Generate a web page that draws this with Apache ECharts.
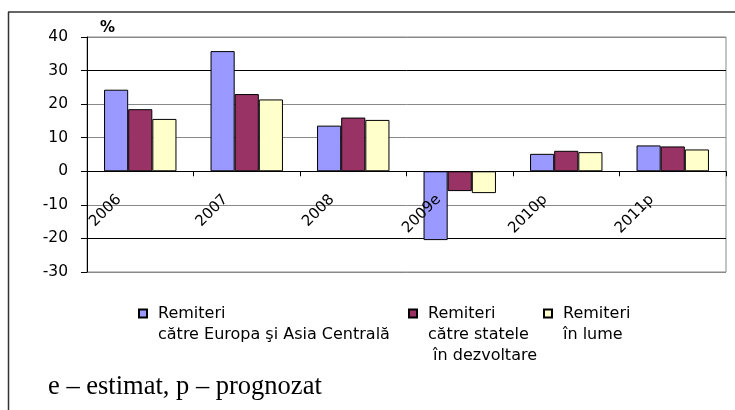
<!DOCTYPE html>
<html><head><meta charset="utf-8">
<script src="https://cdn.jsdelivr.net/npm/echarts@6/dist/echarts.min.js"></script>
<style>html,body{margin:0;padding:0;background:#fff}#c{width:735px;height:410px}</style>
</head><body><div id="c"></div>
<script>
var categories = ['2006', '2007', '2008', '2009e', '2010p', '2011p'];
var europaAsia = [24.3, 35.8, 13.6, -20.5, 5.2, 7.7];
var stateDezvoltare = [18.5, 23.0, 16.0, -5.9, 6.1, 7.4];
var lume = [15.6, 21.4, 15.3, -6.5, 5.7, 6.5];
var seriesNames = ['Remiteri\ncătre Europa şi Asia Centrală', 'Remiteri\ncătre statele\n în dezvoltare', 'Remiteri\nîn lume'];
var yTicks = {min: -30, max: 40, interval: 10};
var footnote = 'e – estimat, p – prognozat';

var colors = ['#9999FF', '#993366', '#FFFFCC'];
var LH = 21;
var chart = echarts.init(document.getElementById('c'), null, {renderer: 'canvas'});
function legendAt(i, left) {
  var n = seriesNames[i].split('\n').length;
  var boxH = (2 * n - 1) * LH;
  return {
    data: [seriesNames[i]], left: left, top: Math.round(313.5 - boxH / 2), orient: 'horizontal', padding: 0,
    itemWidth: 8, itemHeight: 8, icon: 'rect', selectedMode: false,
    formatter: function (name) { return new Array(n).join('\n') + name; },
    textStyle: {fontFamily: 'DejaVu Sans', fontSize: 16, color: '#000', lineHeight: LH, padding: [0, 0, 0, 6]}
  };
}
var vals = [europaAsia, stateDezvoltare, lume];
chart.setOption({
  animation: false,
  backgroundColor: '#fff',
  textStyle: {fontFamily: 'DejaVu Sans'},
  title: {text: footnote, left: 48, top: 374, padding: 0,
    textStyle: {fontFamily: 'Liberation Serif', fontSize: 26.5, lineHeight: 26, fontWeight: 'normal', color: '#000'}},
  legend: [legendAt(0, 138), legendAt(1, 408), legendAt(2, 543)],
  grid: {left: 87, right: 9, top: 37, bottom: 138, show: true, borderColor: '#888', borderWidth: 1},
  xAxis: {
    type: 'category', data: categories, boundaryGap: true, z: 10,
    axisLine: {onZero: true, lineStyle: {color: '#000', width: 1}},
    axisTick: {show: true, length: 5, inside: false, lineStyle: {color: '#000'}},
    axisLabel: {rotate: 45, fontFamily: 'DejaVu Sans', fontSize: 15, color: '#000', margin: -96, padding: [0, 30, 0, 0]}
  },
  yAxis: {
    type: 'value', min: yTicks.min, max: yTicks.max, interval: yTicks.interval,
    name: '%', nameLocation: 'end', nameGap: 1,
    nameTextStyle: {fontFamily: 'DejaVu Sans', fontWeight: 'bold', fontSize: 15, color: '#000', align: 'left', padding: [0, 0, 0, 13]},
    axisLine: {show: true, onZero: false, lineStyle: {color: '#000'}},
    axisTick: {show: true, length: 6, lineStyle: {color: '#000'}},
    axisLabel: {fontFamily: 'DejaVu Sans', fontSize: 15.5, color: '#000', margin: 19},
    splitLine: {show: true, lineStyle: {color: ['#888', '#000', '#888', '#000', '#888', '#888', '#000', '#888'], width: 1}}
  },
  series: vals.map(function (v, i) {
    return {
      type: 'bar', name: seriesNames[i], data: v, barGap: '0%', barCategoryGap: '32%',
      itemStyle: {color: colors[i], borderColor: '#000', borderWidth: 1}
    };
  }),
  graphic: [
    {type: 'line', shape: {x1: 8, y1: 12, x2: 735, y2: 12}, style: {stroke: '#333', lineWidth: 1.5}, silent: true},
    {type: 'line', shape: {x1: 8.5, y1: 12, x2: 8.5, y2: 410}, style: {stroke: '#333', lineWidth: 1.5}, silent: true}
  ]
});
</script></body></html>
